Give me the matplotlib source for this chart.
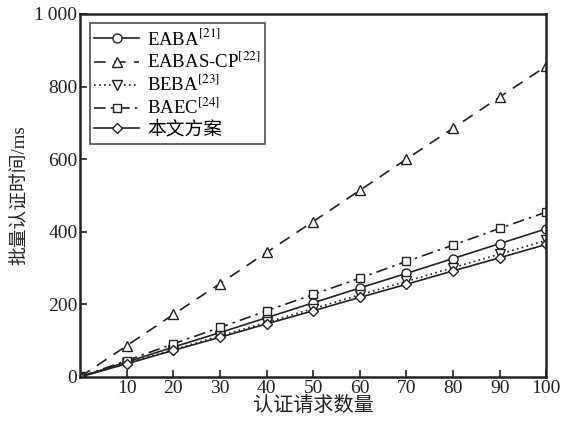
import matplotlib
matplotlib.use("Agg")
import matplotlib.pyplot as plt
from matplotlib.ticker import FuncFormatter

plt.rcParams['font.family'] = ['Liberation Serif', 'Noto Sans CJK SC']
plt.rcParams['mathtext.fontset'] = 'stix'

x = [0, 10, 20, 30, 40, 50, 60, 70, 80, 90, 100]
eaba = [0, 41, 82, 122, 163, 204, 245, 285, 326, 367, 408]
eabas_cp = [0, 86, 172, 257, 343, 428, 514, 600, 685, 771, 856]
beba = [0, 38, 75, 113, 150, 188, 226, 263, 301, 338, 376]
baec = [0, 45, 91, 136, 182, 227, 272, 318, 363, 409, 454]
ours = [0, 36, 73, 109, 146, 182, 219, 255, 292, 328, 365]

labels = ['EABA$^{[21]}$', 'EABAS-CP$^{[22]}$', 'BEBA$^{[23]}$', 'BAEC$^{[24]}$', '本文方案']

fig = plt.figure(figsize=(5.69, 4.22), dpi=100)
ax = fig.add_axes([0.141, 0.107, 0.819, 0.86])

c = '#222222'
mk = dict(markersize=6.5, markerfacecolor='white', markeredgecolor=c, markeredgewidth=1.0, color=c, linewidth=1.2)
ax.plot(x, eaba, '-', marker='o', label=labels[0], **mk)
ax.plot(x, eabas_cp, linestyle=(0, (7, 5)), marker='^', label=labels[1], **mk)
ax.plot(x, beba, linestyle=(0, (1, 2)), marker='v', label=labels[2], **mk)
ax.plot(x, baec, linestyle=(0, (7, 3, 1.5, 3)), marker='s', label=labels[3], **{**mk, 'markersize': 6})
ax.plot(x, ours, '-', marker='D', label=labels[4], **{**mk, 'markersize': 5.5})

ax.set_xlim(0, 100)
ax.set_ylim(0, 1000)
ax.set_xticks([10, 20, 30, 40, 50, 60, 70, 80, 90, 100])
ax.set_yticks([0, 200, 400, 600, 800, 1000])
ax.yaxis.set_major_formatter(FuncFormatter(lambda v, p: '1\u2009000' if v == 1000 else '%d' % v))
ax.tick_params(direction='in', length=5, width=1.2, labelsize=14, colors=c, pad=2)
for s in ax.spines.values():
    s.set_linewidth(1.8)
    s.set_color(c)

ax.set_xlabel('认证请求数量', fontsize=14.5, labelpad=0, color=c)
ax.set_ylabel('批量认证时间/ms', fontsize=13.5, labelpad=4, color=c)

leg = ax.legend(loc='upper left', fontsize=13.5, frameon=True, fancybox=False,
                edgecolor=c, handlelength=2.4, borderpad=0.25, labelspacing=0.15,
                handletextpad=0.4, borderaxespad=0.5)
leg.get_frame().set_linewidth(1.2)

fig.savefig('out.png', dpi=100)
